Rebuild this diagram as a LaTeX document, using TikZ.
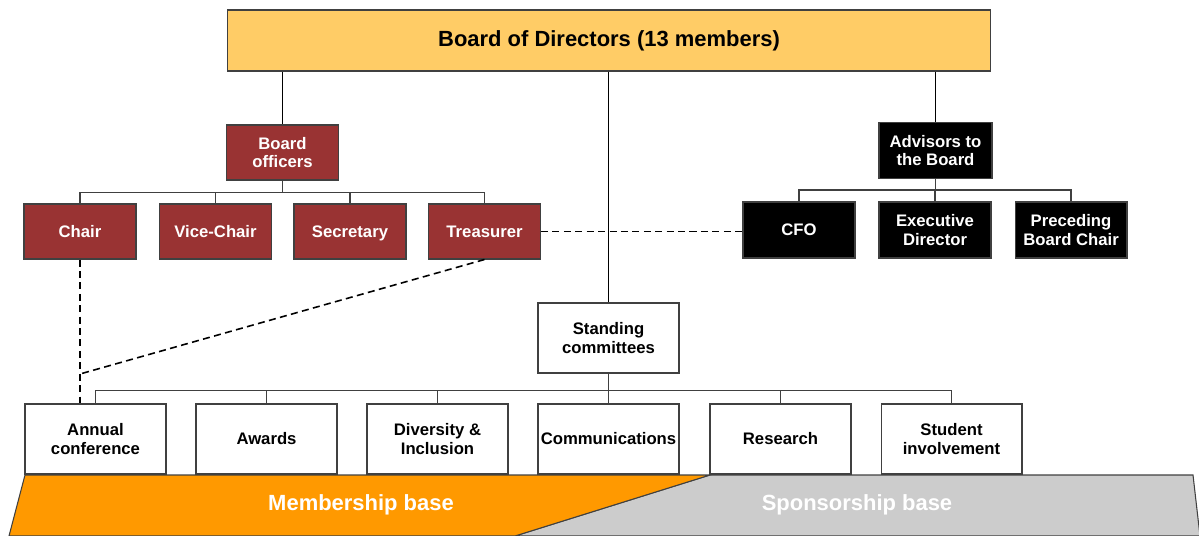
\documentclass[tikz,border=0pt]{standalone}
\usepackage{fontspec}
\setmainfont{Liberation Sans}
\definecolor{boardgold}{HTML}{FFCC66}
\definecolor{officerred}{HTML}{993333}
\definecolor{memberorange}{HTML}{FF9900}
\definecolor{sponsorgray}{HTML}{CCCCCC}
\definecolor{edgegray}{HTML}{404040}
\tikzset{
  box/.style={draw=edgegray, line width=0.6pt, align=center, inner sep=1pt,
    font=\fontsize{9.5}{10.5}\selectfont\bfseries},
  officer/.style={box, fill=officerred, text=white, minimum width=2.24cm, minimum height=1.1cm},
  advisor/.style={box, fill=black, text=white, minimum width=2.24cm, minimum height=1.12cm},
  committee/.style={box, fill=white, minimum width=2.82cm, minimum height=1.4cm},
  tree/.style={draw=edgegray, line width=0.75pt},
  trunk/.style={draw=black, line width=0.95pt},
  link/.style={draw=black, line width=0.9pt, dash pattern=on 4pt off 2.5pt},
  base/.style={draw=edgegray, line width=0.6pt}
}
\begin{document}
\begin{tikzpicture}[x=0.02cm, y=-0.02cm]
\useasboundingbox (0,0) rectangle (1199,536);
% bases
\fill[sponsorgray, base] (710,475) -- (1193,475) -- (1200,536) -- (515,536) -- cycle;
\fill[memberorange, base] (25,475) -- (710,475) -- (515,536) -- (9,536) -- cycle;
\node(member) at (361,505) [text=white, font=\fontsize{12.5}{14}\selectfont\bfseries] {Membership base};
\node(sponsor) at (857,505) [text=white, font=\fontsize{12.5}{14}\selectfont\bfseries] {Sponsorship base};
% board
\node(board) at (609,40.5) [box, fill=boardgold, minimum width=15.28cm, minimum height=1.22cm, font=\fontsize{12.5}{14}\selectfont\bfseries] {Board of Directors (13 members)};
\node(officers) at (282.5,152.5) [officer] {Board\\officers};
\node(chair) at (80,231.5) [officer] {Chair};
\node(vice) at (215.5,231.5) [officer] {Vice-Chair};
\node(secretary) at (350,231.5) [officer, text depth=0pt] {Secretary};
\node(treasurer) at (484.5,231.5) [officer] {Treasurer};
\node(advisors) at (935.5,150.5) [advisor, minimum width=2.26cm] {Advisors to\\the Board};
\node(cfo) at (799,230) [advisor] {CFO};
\node(exec) at (935,230) [advisor] {Executive\\Director};
\node(preceding) at (1071,230) [advisor] {Preceding\\Board Chair};
\node(standing) at (608.5,338) [committee] {Standing\\committees};
\node(annual) at (95.5,439) [committee] {Annual\\conference};
\node(awards) at (266.5,439) [committee] {Awards};
\node(diversity) at (437.5,439) [committee] {Diversity \&\\Inclusion};
\node(comms) at (608.5,439) [committee] {Communications};
\node(research) at (780.5,439) [committee] {Research};
\node(student) at (951.5,439) [committee] {Student\\involvement};
% trunks from the board
\draw[trunk] (officers.north |- board.south) -- (officers.north);
\draw[trunk] (standing.north |- board.south) -- (standing.north);
\draw[trunk] (advisors.north |- board.south) -- (advisors.north);
% branches
\foreach \n in {chair,vice,secretary,treasurer}
  \draw[tree] (officers.south) -- ++(0,12) -| (\n.north);
\foreach \n in {cfo,exec,preceding}
  \draw[tree] (advisors.south) -- ++(0,11) -| (\n.north);
\foreach \n in {annual,awards,diversity,comms,research,student}
  \draw[tree] (standing.south) -- ++(0,17) -| (\n.north);
% dashed links
\coordinate(meet) at (80,374);
\draw[link] (treasurer.east) -- (treasurer.east -| cfo.west);
\draw[link] (chair.south) -- (chair.south |- annual.north);
\draw[link] (treasurer.south) -- (meet);
\end{tikzpicture}
\end{document}
